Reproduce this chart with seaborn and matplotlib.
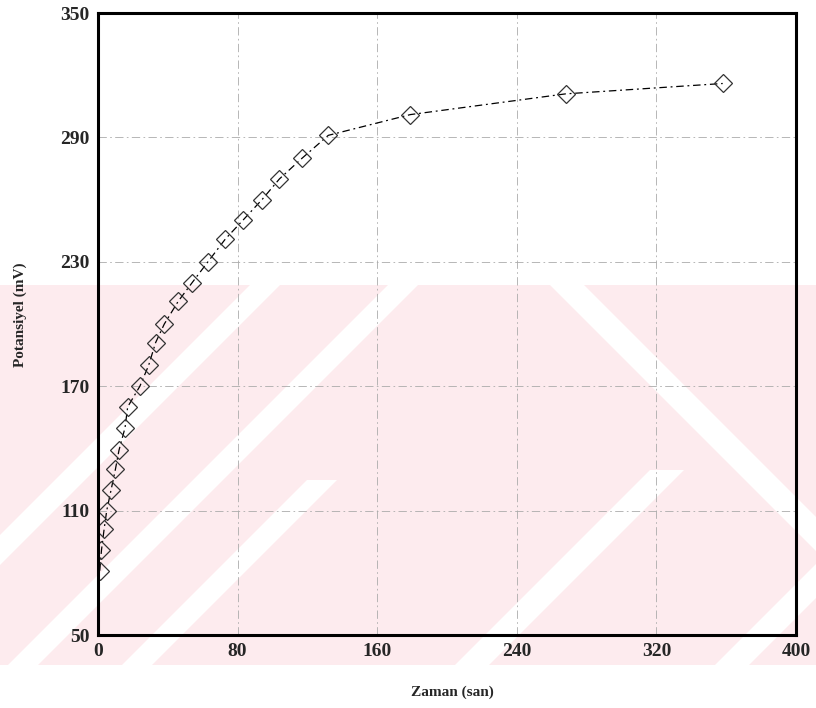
import matplotlib
matplotlib.use("Agg")
import matplotlib.pyplot as plt
import seaborn as sns
import pandas as pd
from matplotlib.patches import Polygon, Rectangle

# Measured potential vs. time
zaman = [1, 2, 3.5, 5, 7.5, 10, 12, 15.5, 17, 24, 29, 33, 38, 46, 54,
         63, 73, 83, 94, 104, 117, 132, 179, 268, 358]
potansiyel = [81, 91, 101, 110, 120, 130, 139, 150, 160, 170, 180, 191, 200,
              211, 220, 230, 241, 250, 260, 270, 280, 291, 301, 311, 316]

x_ticks = [0, 80, 160, 240, 320, 400]
y_ticks = [50, 110, 170, 230, 290, 350]

df = pd.DataFrame({"Zaman": zaman, "Potansiyel": potansiyel})

sns.set_style("white")
plt.rcParams["font.family"] = ["Liberation Serif", "DejaVu Serif"]

W, H = 816, 708
fig = plt.figure(figsize=(W / 100, H / 100), dpi=100)

# pale striped backdrop (pixel coordinates, y pointing down)
bg = fig.add_axes([0, 0, 1, 1], zorder=0)
bg.set_xlim(0, W)
bg.set_ylim(H, 0)
bg.axis("off")
pink = "#fdebee"
band_top, band_bot = 285, 665
area = Rectangle((0, band_top), W, band_bot - band_top, facecolor=pink,
                 edgecolor="none")
bg.add_patch(area)


def slash(c, w, y0=band_top, y1=band_bot):
    # white stripe between x + y = c and x + y = c + w
    return [(c - y0, y0), (c + w - y0, y0), (c + w - y1, y1), (c - y1, y1)]


def backslash(c, w, y0=band_top, y1=band_bot):
    # white stripe between x - y = c and x - y = c + w
    return [(c + y0, y0), (c + w + y0, y0), (c + w + y1, y1), (c + y1, y1)]


stripes = [slash(535, 30), slash(673, 30), slash(787, 30, y0=480),
           slash(1120, 34, y0=470), slash(1380, 34), backslash(265, 34)]
for pts in stripes:
    p = Polygon(pts, closed=True, facecolor="white", edgecolor="none")
    bg.add_patch(p)
    p.set_clip_path(area)

ax = fig.add_axes([98 / W, 1 - 635 / H, 698 / W, 622 / H], zorder=1)
ax.patch.set_alpha(0)

sns.lineplot(data=df, x="Zaman", y="Potansiyel", ax=ax, color="black",
             linewidth=0.9, linestyle=(0, (6, 3, 1.5, 3)), marker="D",
             markersize=9.5, markerfacecolor="none", markeredgecolor="#333333",
             markeredgewidth=0.9, sort=False)

ax.set_xlim(0, 400)
ax.set_ylim(50, 350)
ax.set_xticks(x_ticks)
ax.set_yticks(y_ticks)
ax.set_xticklabels([str(v) for v in x_ticks], fontsize=14, fontweight="bold")
ax.set_yticklabels([str(v) for v in y_ticks], fontsize=14, fontweight="bold")
ax.tick_params(length=0, pad=6)

ax.grid(True, color="#ababab", linewidth=0.6, linestyle=(0, (10, 4, 2, 4)))
ax.set_axisbelow(True)
for side in ["left", "right", "top", "bottom"]:
    ax.spines[side].set_visible(True)
    ax.spines[side].set_color("black")
    ax.spines[side].set_linewidth(2.2)

ax.set_xlabel("Zaman (san)", fontsize=11, fontweight="bold")
ax.set_ylabel("Potansiyel (mV)", fontsize=11, fontweight="bold")
ax.xaxis.set_label_coords(0.507, -0.082)
ax.yaxis.set_label_coords(-0.102, 0.515)

fig.savefig("out.png", dpi=100)
